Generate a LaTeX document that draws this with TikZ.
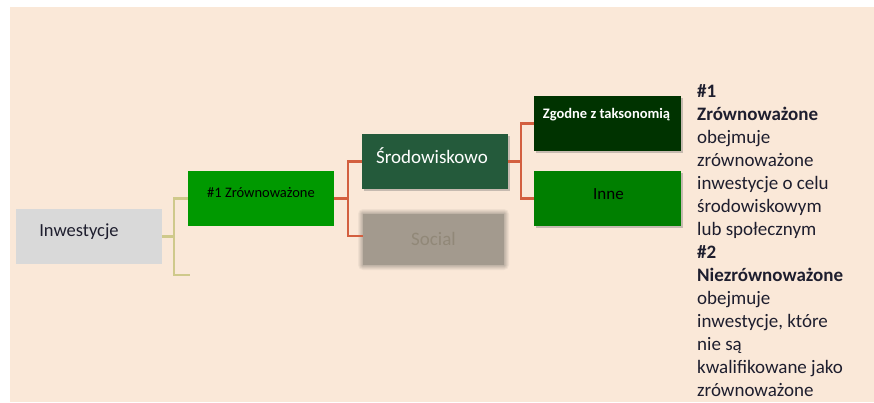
\documentclass[tikz,border=0pt]{standalone}
\usepackage{fontspec}
\setmainfont{Carlito}
\usetikzlibrary{shadows}
\definecolor{bgc}{HTML}{FAE8D8}
\definecolor{grayb}{HTML}{D9D9D9}
\definecolor{greenA}{HTML}{009900}
\definecolor{greenS}{HTML}{245A3B}
\definecolor{socialc}{HTML}{A39A8E}
\definecolor{socialt}{HTML}{918878}
\definecolor{greenZ}{HTML}{003300}
\definecolor{greenI}{HTML}{007F00}
\definecolor{yelc}{HTML}{CFC98B}
\definecolor{redc}{HTML}{D35F3F}
\definecolor{txtc}{HTML}{1E1E2E}
\tikzset{
  box/.style={rectangle, inner sep=0pt, minimum width=146pt, minimum height=55pt},
  shad/.style={drop shadow={shadow xshift=1.5pt, shadow yshift=-2pt, opacity=0.35, fill=black!60}},
  lbl/.style={inner sep=0pt},
  yelline/.style={draw=yelc, line width=2.2pt},
  redline/.style={draw=redc, line width=2.2pt},
}
\begin{document}
\begin{tikzpicture}[x=1pt, y=-1pt]
\useasboundingbox (0,0) rectangle (874,402);
\fill[white] (0,0) rectangle (874,402);
\fill[bgc] (10,7) rectangle (874,402);

% boxes
\node[box, fill=grayb,
  label={[lbl, xshift=-10pt, yshift=4.5pt, text=txtc, font=\fontsize{18.5}{20}\selectfont]center:Inwestycje}] (n0) at (89,236.5) {};
\node[box, fill=greenA,
  label={[lbl, yshift=5.5pt, text=black, font=\fontsize{14.5}{16}\selectfont]center:\#1 Zrównoważone}] (n1) at (261,198.5) {};
\node[box, fill=greenS, shad,
  label={[lbl, xshift=-3pt, yshift=5.5pt, text=white, font=\fontsize{19}{21}\selectfont]center:Środowiskowo}] (sr) at (435,161.5) {};
% blurred social box
\foreach \d/\o in {5/0.12, 4/0.14, 3/0.18, 2/0.22, 1/0.3}{
  \fill[socialc, opacity=\o, rounded corners=\d pt] (363-\d,214-\d) rectangle (504+\d,265+\d);
}
\node[box, fill=socialc, minimum width=141pt, minimum height=51pt,
  label={[lbl, yshift=0.5pt, text=socialt, font=\fontsize{19}{21}\selectfont]center:Social}] (so) at (433.5,239.5) {};
\node[box, fill=greenZ, minimum width=147pt, shad,
  label={[lbl, xshift=-1pt, yshift=8.5pt, text=white, font=\bfseries\fontsize{14.5}{16}\selectfont]center:Zgodne z taksonomią}] (zg) at (607.5,123.5) {};
\node[box, fill=greenI, minimum width=147pt, shad,
  label={[lbl, xshift=1pt, yshift=4.5pt, text=black, font=\fontsize{17}{19}\selectfont]center:Inne}] (in) at (607.5,198.5) {};

% connectors
\coordinate (stub) at (190,275);
\draw[yelline] (n0.east) -- ++(12,0) |- (n1.west);
\draw[yelline] (n0.east) ++(12,0) |- (stub);
\draw[redline] (n1.east) -- ++(14,0) |- (sr.west);
\draw[redline] (n1.east) ++(14,0) |- ([yshift=3.5pt]so.west);
\draw[redline] (sr.east) -- ++(13,0) |- (zg.west);
\draw[redline] (sr.east) ++(13,0) |- (in.west);

% side text
\node[anchor=north west, inner sep=0pt, align=left, text=txtc,
  font=\fontsize{19}{23}\selectfont] (desc) at (697,84) {%
  \textbf{\#1}\\
  \textbf{Zrównoważone}\\
  obejmuje\\
  zrównoważone\\
  inwestycje o celu\\
  środowiskowym\\
  lub społecznym\\
  \textbf{\#2}\\
  \textbf{Niezrównoważone}\\
  obejmuje\\
  inwestycje, które\\
  nie są\\
  kwalifikowane jako\\
  zrównoważone};
\end{tikzpicture}
\end{document}
